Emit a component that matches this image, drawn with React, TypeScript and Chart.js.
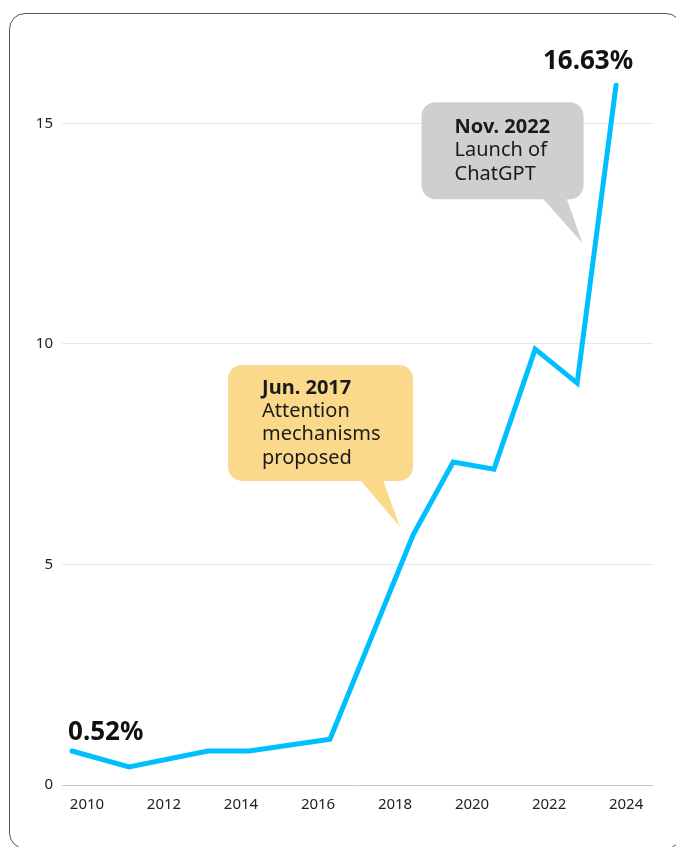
import React, { useEffect, useRef } from "react";
import { Chart, registerables } from "chart.js";

Chart.register(...registerables);

// Data (x in fractional years, y in %)
const years = [2009.61, 2011.09, 2013.14, 2014.21, 2016.31, 2018.47, 2019.51, 2020.57, 2021.64, 2022.73, 2023.74];
const shares = [0.77, 0.41, 0.77, 0.77, 1.04, 5.67, 7.32, 7.16, 9.88, 9.11, 15.86];
const xTicks = [2010, 2012, 2014, 2016, 2018, 2020, 2022, 2024];
const yTicks = [0, 5, 10, 15];
const firstLabel = "0.52%";
const lastLabel = "16.63%";

const calloutTitles = ["Jun. 2017", "Nov. 2022"];
const calloutBodies = [["Attention", "mechanisms", "proposed"], ["Launch of", "ChatGPT"]];
const calloutTipX = [2018.13, 2022.87];
const calloutTipY = [5.85, 12.28];

const FONT = "'Noto Sans', sans-serif";

const annotationPlugin = {
  id: "annotations",
  afterDatasetsDraw(chart: any) {
    const { ctx, scales } = chart;
    const xs = scales.x;
    const ys = scales.y;
    ctx.save();

    // end labels
    ctx.fillStyle = "#111";
    ctx.font = `bold 26px ${FONT}`;
    ctx.textBaseline = "middle";
    const p0x = xs.getPixelForValue(years[0]);
    const p0y = ys.getPixelForValue(shares[0]);
    ctx.textAlign = "left";
    ctx.fillText(firstLabel, p0x - 4, p0y - 18);
    const pnx = xs.getPixelForValue(years[years.length - 1]);
    const pny = ys.getPixelForValue(shares[shares.length - 1]);
    ctx.textAlign = "center";
    ctx.fillText(lastLabel, pnx - 28, pny - 24);

    // callouts
    const geo = [
      { l: -172, r: 13, t: -162, b: -46, bl: -40, br: -17, color: "#fbd98b", tx: 34, ty: 23 },
      { l: -161, r: 1, t: -141, b: -44, bl: -40, br: -16, color: "#cfcfcf", tx: 33, ty: 25 },
    ];
    for (let i = 0; i < calloutTitles.length; i++) {
      const g = geo[i];
      const tx = xs.getPixelForValue(calloutTipX[i]);
      const ty = ys.getPixelForValue(calloutTipY[i]);
      const left = tx + g.l, right = tx + g.r, top = ty + g.t, bottom = ty + g.b;
      ctx.fillStyle = g.color;
      ctx.beginPath();
      ctx.roundRect(left, top, right - left, bottom - top, 14);
      ctx.fill();
      ctx.beginPath();
      ctx.moveTo(tx + g.bl, bottom - 1);
      ctx.lineTo(tx + g.br, bottom - 1);
      ctx.lineTo(tx, ty);
      ctx.closePath();
      ctx.fill();

      ctx.fillStyle = "#1a1a1a";
      ctx.textAlign = "left";
      ctx.textBaseline = "middle";
      ctx.font = `bold 20px ${FONT}`;
      const lh = 23.3;
      ctx.fillText(calloutTitles[i], left + g.tx, top + g.ty);
      ctx.font = `20px ${FONT}`;
      calloutBodies[i].forEach((line, k) => {
        ctx.fillText(line, left + g.tx, top + g.ty + lh * (k + 1));
      });
    }
    ctx.restore();
  },
};

export default function App() {
  const ref = useRef<HTMLCanvasElement | null>(null);

  useEffect(() => {
    if (!ref.current) return;
    const chart = new Chart(ref.current, {
      type: "line",
      data: {
        datasets: [
          {
            data: years.map((x, i) => ({ x, y: shares[i] })),
            borderColor: "#00bfff",
            borderWidth: 5,
            pointRadius: 0,
            tension: 0,
            borderJoinStyle: "miter",
            borderCapStyle: "round",
            fill: false,
          },
        ],
      },
      options: {
        responsive: false,
        animation: false,
        layout: { padding: { top: 35, right: 23, bottom: 0, left: 0 } },
        plugins: { legend: { display: false }, tooltip: { enabled: false } },
        scales: {
          x: {
            type: "linear",
            min: 2009.35,
            max: 2024.7,
            afterBuildTicks: (s: any) => {
              s.ticks = xTicks.map((v) => ({ value: v }));
            },
            afterFit: (s: any) => {
              s.height = 62;
            },
            grid: { display: false, drawTicks: false },
            border: { display: false },
            ticks: {
              color: "#222",
              font: { family: FONT, size: 15 },
              padding: 11,
              maxRotation: 0,
              autoSkip: false,
              callback: (v: any) => String(v),
            },
          },
          y: {
            min: 0,
            max: 17,
            afterBuildTicks: (s: any) => {
              s.ticks = yTicks.map((v) => ({ value: v }));
            },
            afterFit: (s: any) => {
              s.width = 62;
            },
            grid: {
              drawTicks: false,
              color: (c: any) => (c.tick && c.tick.value === 0 ? "#c8c8c8" : "#e6e6e6"),
            },
            border: { display: false },
            ticks: {
              color: "#222",
              font: { family: FONT, size: 15 },
              padding: 9,
              callback: (v: any) => String(v),
            },
          },
        },
      },
      plugins: [annotationPlugin],
    } as any);
    return () => chart.destroy();
  }, []);

  return (
    <div
      style={{
        position: "fixed",
        left: 0,
        top: 0,
        width: 676,
        height: 847,
        overflow: "hidden",
        background: "#fff",
      }}
    >
      <div
        style={{
          position: "absolute",
          left: 9,
          top: 13,
          width: 673,
          height: 836,
          border: "1px solid #555",
          borderRadius: 16,
          boxSizing: "border-box",
        }}
      />
      <canvas
        ref={ref}
        width={676}
        height={847}
        style={{ position: "absolute", left: 0, top: 0, display: "block" }}
      />
    </div>
  );
}
